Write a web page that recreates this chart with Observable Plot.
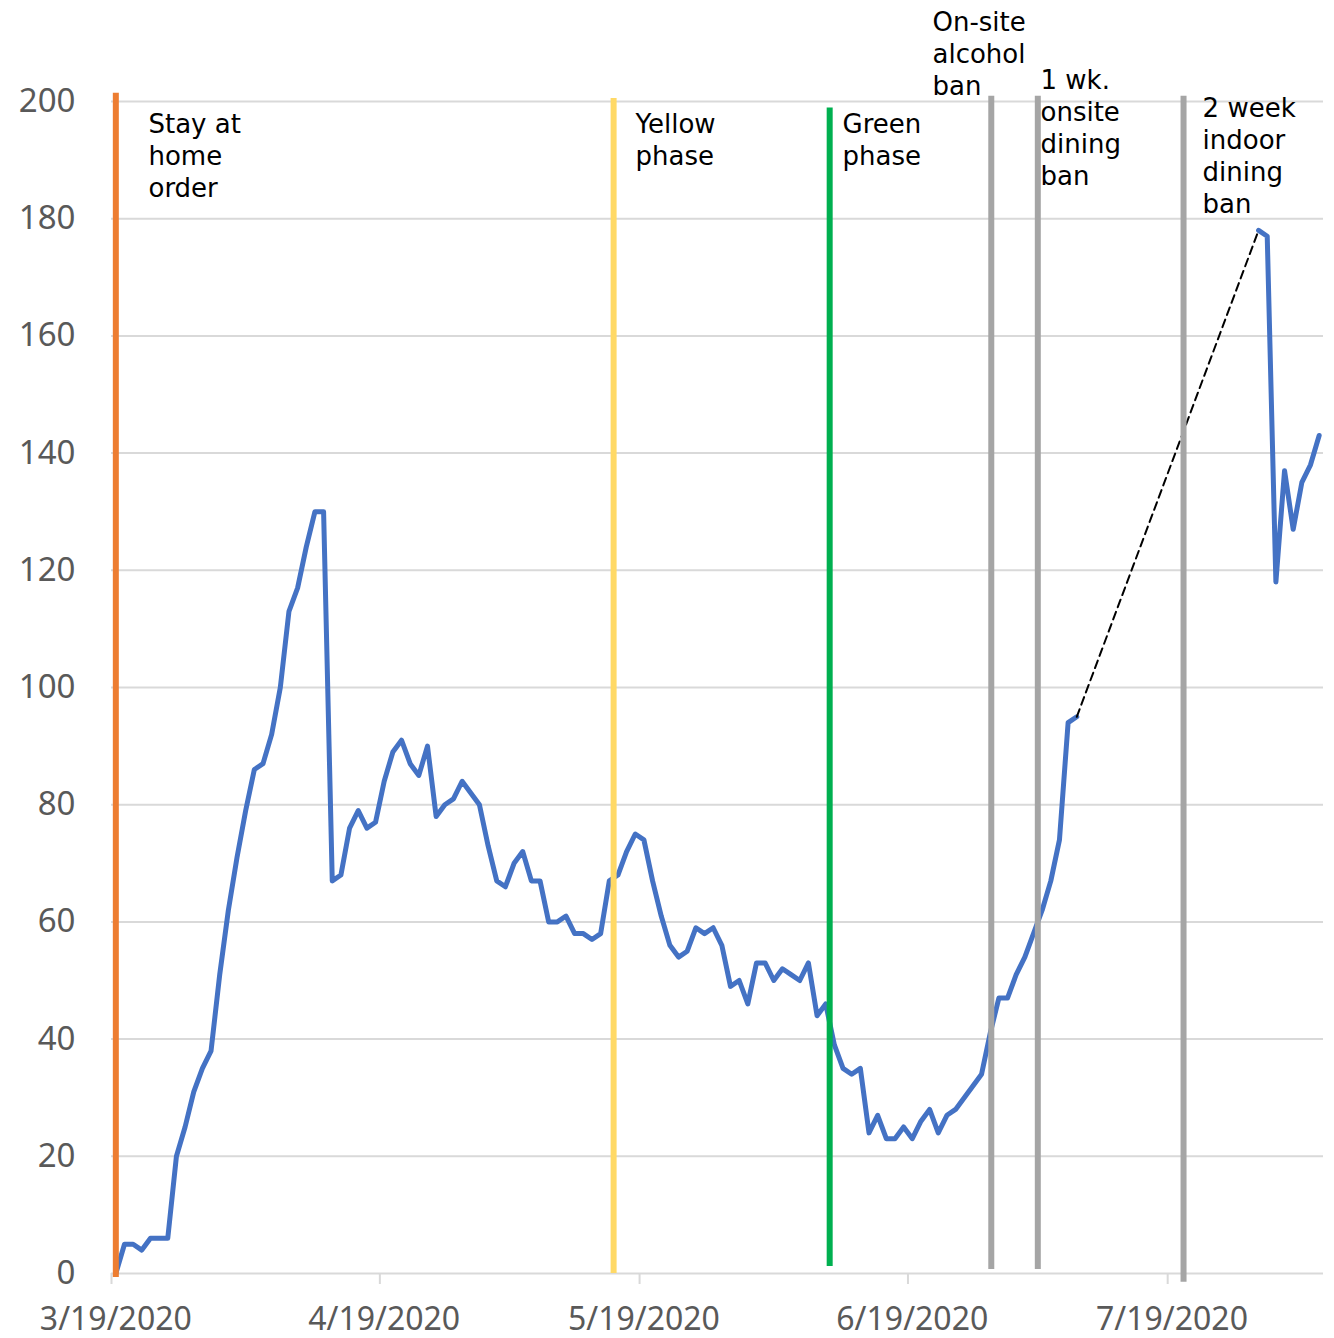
<!DOCTYPE html>
<html>
<head>
<meta charset="utf-8">
<script src="https://cdn.jsdelivr.net/npm/d3@7"></script>
<script src="https://cdn.jsdelivr.net/npm/@observablehq/plot@0.6"></script>
<style>
  html, body { margin: 0; padding: 0; background: #fff; }
</style>
</head>
<body>
<div id="chart"></div>
<script>
// ---- Data ----
const seriesStart = "2020-03-19";   // first daily value
const domainStart = "2020-03-19";
const domainEnd = "2020-08-06";

// Daily values (3/19/2020 ... 8/5/2020); null = no data
const dailyValues = [
  0, 5, 5, 4, 6, 6, 6, 20, 25, 31,
  35, 38, 51, 62, 71, 79, 86, 87, 92, 100,
  113, 117, 124, 130, 130, 67, 68, 76, 79, 76,
  77, 84, 89, 91, 87, 85, 90, 78, 80, 81,
  84, 82, 80, 73, 67, 66, 70, 72, 67, 67,
  60, 60, 61, 58, 58, 57, 58, 67, 68, 72,
  75, 74, 67, 61, 56, 54, 55, 59, 58, 59,
  56, 49, 50, 46, 53, 53, 50, 52, 51, 50,
  53, 44, 46, 39, 35, 34, 35, 24, 27, 23,
  23, 25, 23, 26, 28, 24, 27, 28, 30, 32,
  34, 41, 47, 47, 51, 54, 58, 62, 67, 74,
  94, 95,
  null, null, null, null, null, null, null, null, null, null,
  null, null, null, null, null, null, null, null, null, null,
  178, 177, 118, 137, 127, 135, 138, 143
];

// Dashed connector across the gap
const connectorDates = ["2020-07-08T12:00Z", "2020-07-29T12:00Z"];
const connectorValues = [95, 178];

// Event markers (vertical lines)
const eventNames = ["Stay at home order", "Yellow phase", "Green phase", "On-site alcohol ban", "1 wk. onsite dining ban", "2 week indoor dining ban"];
const eventDates = ["2020-03-19T12:00Z", "2020-05-16T00:00Z", "2020-06-09T23:00Z", "2020-06-28T15:00Z", "2020-07-04T00:00Z", "2020-07-20T20:00Z"];
const eventLow = [-0.7, 0, 1.2, 0.7, 0.7, -1.5];
const eventHigh = [201.4, 200.5, 198.9, 200.9, 200.9, 200.9];
const eventColors = ["#ED7D31", "#FFD966", "#00B050", "#A5A5A5", "#A5A5A5", "#A5A5A5"];

// Event annotations
const labelTexts = ["Stay at\nhome\norder", "Yellow\nphase", "Green\nphase", "On-site\nalcohol\nban", "1 wk.\nonsite\ndining\nban", "2 week\nindoor\ndining\nban"];
const labelDates = ["2020-03-23T06:30Z", "2020-05-18T12:45Z", "2020-06-11T10:30Z", "2020-06-21T20:00Z", "2020-07-04T07:30Z", "2020-07-23T00:45Z"];
const labelTops = [198.5, 198.5, 198.5, 215.9, 206.0, 201.2];

// Axis ticks
const yTicks = [0, 20, 40, 60, 80, 100, 120, 140, 160, 180, 200];
const xTickDates = ["2020-03-19", "2020-04-19", "2020-05-19", "2020-06-19", "2020-07-19"];
const xTickLabels = ["3/19/2020", "4/19/2020", "5/19/2020", "6/19/2020", "7/19/2020"];

// ---- Tables built from the arrays ----
const start = new Date(seriesStart + "T12:00Z");
const series = dailyValues.map((v, i) => ({date: d3.utcDay.offset(start, i), value: v}));
const connector = connectorDates.map((d, i) => ({date: new Date(d), value: connectorValues[i]}));
const events = eventNames.map((n, i) => ({name: n, date: new Date(eventDates[i]), y1: eventLow[i], y2: eventHigh[i], color: eventColors[i]}));
const labels = labelTexts.map((t, i) => ({text: t, date: new Date(labelDates[i]), y: labelTops[i]}));
const tickMidnights = xTickDates.map(d => new Date(d + "T00:00Z"));
const tickNoons = xTickDates.map(d => new Date(d + "T12:00Z"));
const labelByTime = new Map(tickNoons.map((d, i) => [+d, xTickLabels[i]]));

const chart = Plot.plot({
  width: 1334,
  height: 1338,
  marginLeft: 111,
  marginRight: 11,
  marginTop: 101,
  marginBottom: 65,
  style: {background: "#fff", overflow: "visible", fontFamily: "DejaVu Sans"},
  x: {type: "utc", domain: [new Date(domainStart + "T00:00Z"), new Date(domainEnd + "T00:00Z")]},
  y: {domain: [0, 200]},
  color: {type: "identity"},
  marks: [
    Plot.ruleY(yTicks, {stroke: "#d9d9d9", strokeWidth: 2}),
    Plot.axisY({ticks: yTicks, tickSize: 0, tickPadding: 36, fontSize: 33, fontFamily: "Noto Sans", fill: "#595959", label: null}),
    Plot.axisX({ticks: tickMidnights, tickSize: 11, stroke: "#d9d9d9", strokeWidth: 2, tickFormat: () => "", label: null}),
    Plot.axisX({ticks: tickNoons, tickSize: 0, tickPadding: 34, tickFormat: d => labelByTime.get(+d), fontSize: 32, fontFamily: "Noto Sans", fill: "#595959", label: null}),
    Plot.lineY(series, {x: "date", y: "value", stroke: "#4472C4", strokeWidth: 5, strokeLinejoin: "round", strokeLinecap: "round"}),
    Plot.line(connector, {x: "date", y: "value", stroke: "#000", strokeWidth: 2, strokeDasharray: "8,5"}),
    Plot.ruleX(events, {x: "date", y1: "y1", y2: "y2", stroke: "color", strokeWidth: 6}),
    Plot.text(labels, {x: "date", y: "y", text: "text", textAnchor: "start", lineAnchor: "top", lineHeight: 1.23, fontSize: 26, fontFamily: "DejaVu Sans", fill: "#000"})
  ]
});
document.getElementById("chart").appendChild(chart);
</script>
</body>
</html>
